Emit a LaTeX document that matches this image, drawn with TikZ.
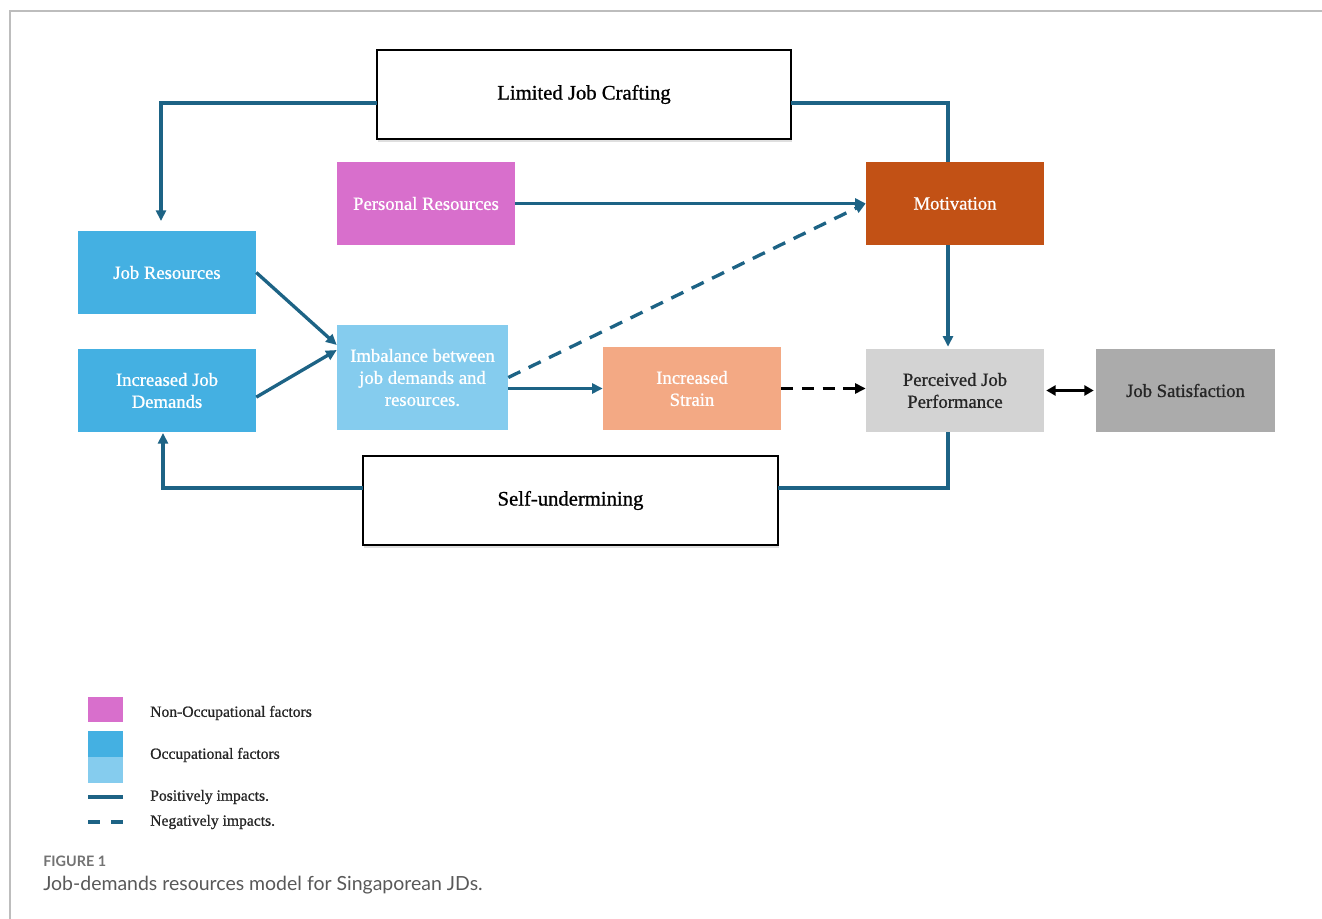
\documentclass[tikz,border=0pt]{standalone}
\usepackage{fontspec}
\setmainfont{Liberation Serif}[FakeBold=0.9]
\newfontfamily\capfont{Lato}
\usetikzlibrary{arrows.meta,shadows,calc}
\definecolor{cmag}{HTML}{D86FCC}
\definecolor{cblue}{HTML}{44B0E2}
\definecolor{clblue}{HTML}{85CCEE}
\definecolor{cmot}{HTML}{C25115}
\definecolor{cstr}{HTML}{F3A984}
\definecolor{cperf}{HTML}{D3D3D3}
\definecolor{csat}{HTML}{ABABAB}
\definecolor{carr}{HTML}{1D6385}
\definecolor{cframe}{HTML}{BDBDBD}
\tikzset{
  bx/.style 2 args={rectangle, inner sep=0pt, align=center, minimum width=#1*0.75pt, minimum height=#2*0.75pt},
  colbox/.style={font=\fontsize{14}{16.5}\selectfont, text=white},
  wbox/.style={draw=black, line width=1.5pt, fill=white, font=\fontsize{15.5}{18}\selectfont,
     drop shadow={shadow xshift=1pt, shadow yshift=-2.5pt, opacity=0.25}},
  arr/.style={draw=carr, line width=2.5pt, -{Triangle[length=8pt,width=7.5pt]}},
  plainln/.style={draw=carr, line width=2.5pt},
  darr/.style={draw=carr, line width=2.5pt, dash pattern=on 10pt off 7pt, -{Triangle[length=8pt,width=7.5pt]}},
  karr/.style={draw=black, line width=2.5pt, dash pattern=on 9pt off 6.5pt, -{Triangle[length=8pt,width=7.5pt]}},
  biarr/.style={draw=black, line width=2.5pt, {Triangle[length=7pt,width=7.5pt]}-{Triangle[length=7pt,width=7.5pt]}},
  legtxt/.style={anchor=west, inner sep=0pt, font=\fontsize{11.7}{14}\selectfont, text=black!85},
}
\begin{document}
\begin{tikzpicture}[x=0.75pt,y=-0.75pt]
\useasboundingbox (0,0) rectangle (1322,919);
% frame
\draw[cframe, line width=1.2pt] (10,919) -- (10,11) -- (1322,11);

% nodes
\node[bx={414}{89}, wbox] (craft) at (584,94.5) {Limited Job Crafting};
\node[bx={178}{83}, colbox, fill=cmag] (pers) at (426,203.5) {Personal Resources};
\node[bx={178}{83}, colbox, fill=cmot] (motiv) at (955,203.5) {Motivation};
\node[bx={178}{83}, colbox, fill=cblue] (jobres) at (167,272.5) {Job Resources};
\node[bx={178}{83}, colbox, fill=cblue] (jobdem) at (167,390.5) {Increased Job\\Demands};
\node[bx={171}{105}, colbox, fill=clblue] (imbal) at (422.5,377.5) {Imbalance between\\job demands and\\resources.};
\node[bx={178}{83}, colbox, fill=cstr] (strain) at (692,388.5) {Increased\\Strain};
\node[bx={178}{83}, colbox, fill=cperf, text=black!85] (perf) at (955,390.5) {Perceived Job\\Performance};
\node[bx={179}{83}, colbox, fill=csat, text=black!85] (sat) at (1185.5,390.5) {Job Satisfaction};
\node[bx={415}{89}, wbox] (selfu) at (570.5,500.5) {Self-undermining};

% connector end points
\coordinate (craftL) at (377,103);
\coordinate (craftR) at (791,103);
\coordinate (jrtop) at (161,221);
\coordinate (mottop) at (948,162);
\coordinate (suL) at (363,488);
\coordinate (suR) at (778,488);
\coordinate (jdbot) at (163,433);

% connectors
\draw[arr] (craftL) -| (jrtop);
\draw[plainln] (craftR) -| (mottop);
\draw[arr] (pers.east) -- (motiv.west);
\draw[darr] (imbal.east) -- (motiv.west);
\draw[arr] (imbal.east |- strain.west) -- (strain.west);
\draw[arr] (jobres.east) -- ([yshift=24.4pt]imbal.west);
\draw[arr] ([yshift=-5pt]jobdem.east) -- ([yshift=20.6pt]imbal.west);
\draw[karr] (strain.east) -- (strain.east -| perf.west);
\draw[arr] ([xshift=-5.25pt]motiv.south) -- ([xshift=-5.25pt,yshift=1.5pt]perf.north);
\draw[biarr] ([xshift=1.5pt]perf.east) -- ([xshift=-1.5pt]perf.east -| sat.west);
\draw[plainln] ([xshift=-5.25pt]perf.south) |- (suR);
\draw[arr] (suL) -| (jdbot);

% legend
\fill[cmag] (88,697) rectangle (123,722);
\fill[cblue] (88,731) rectangle (123,757);
\fill[clblue] (88,757) rectangle (123,783);
\draw[carr, line width=2.5pt] (88,797) -- (123,797);
\draw[carr, line width=2.5pt] (88,822) -- (100,822);
\draw[carr, line width=2.5pt] (111,822) -- (123,822);
\node[legtxt] (l1) at (150,713) {Non-Occupational factors};
\node[legtxt] (l2) at (150,755) {Occupational factors};
\node[legtxt] (l3) at (150,797) {Positively impacts.};
\node[legtxt] (l4) at (150,822) {Negatively impacts.};

% caption
\node[anchor=west, inner sep=0pt, font=\capfont\bfseries\fontsize{10.8}{12}\selectfont, text=black!55] (fig) at (43,861) {FIGURE 1};
\node[anchor=west, inner sep=0pt, font=\capfont\fontsize{14.6}{17}\selectfont, text=black!65] (cap) at (43,885) {Job-demands resources model for Singaporean JDs.};
\end{tikzpicture}
\end{document}
